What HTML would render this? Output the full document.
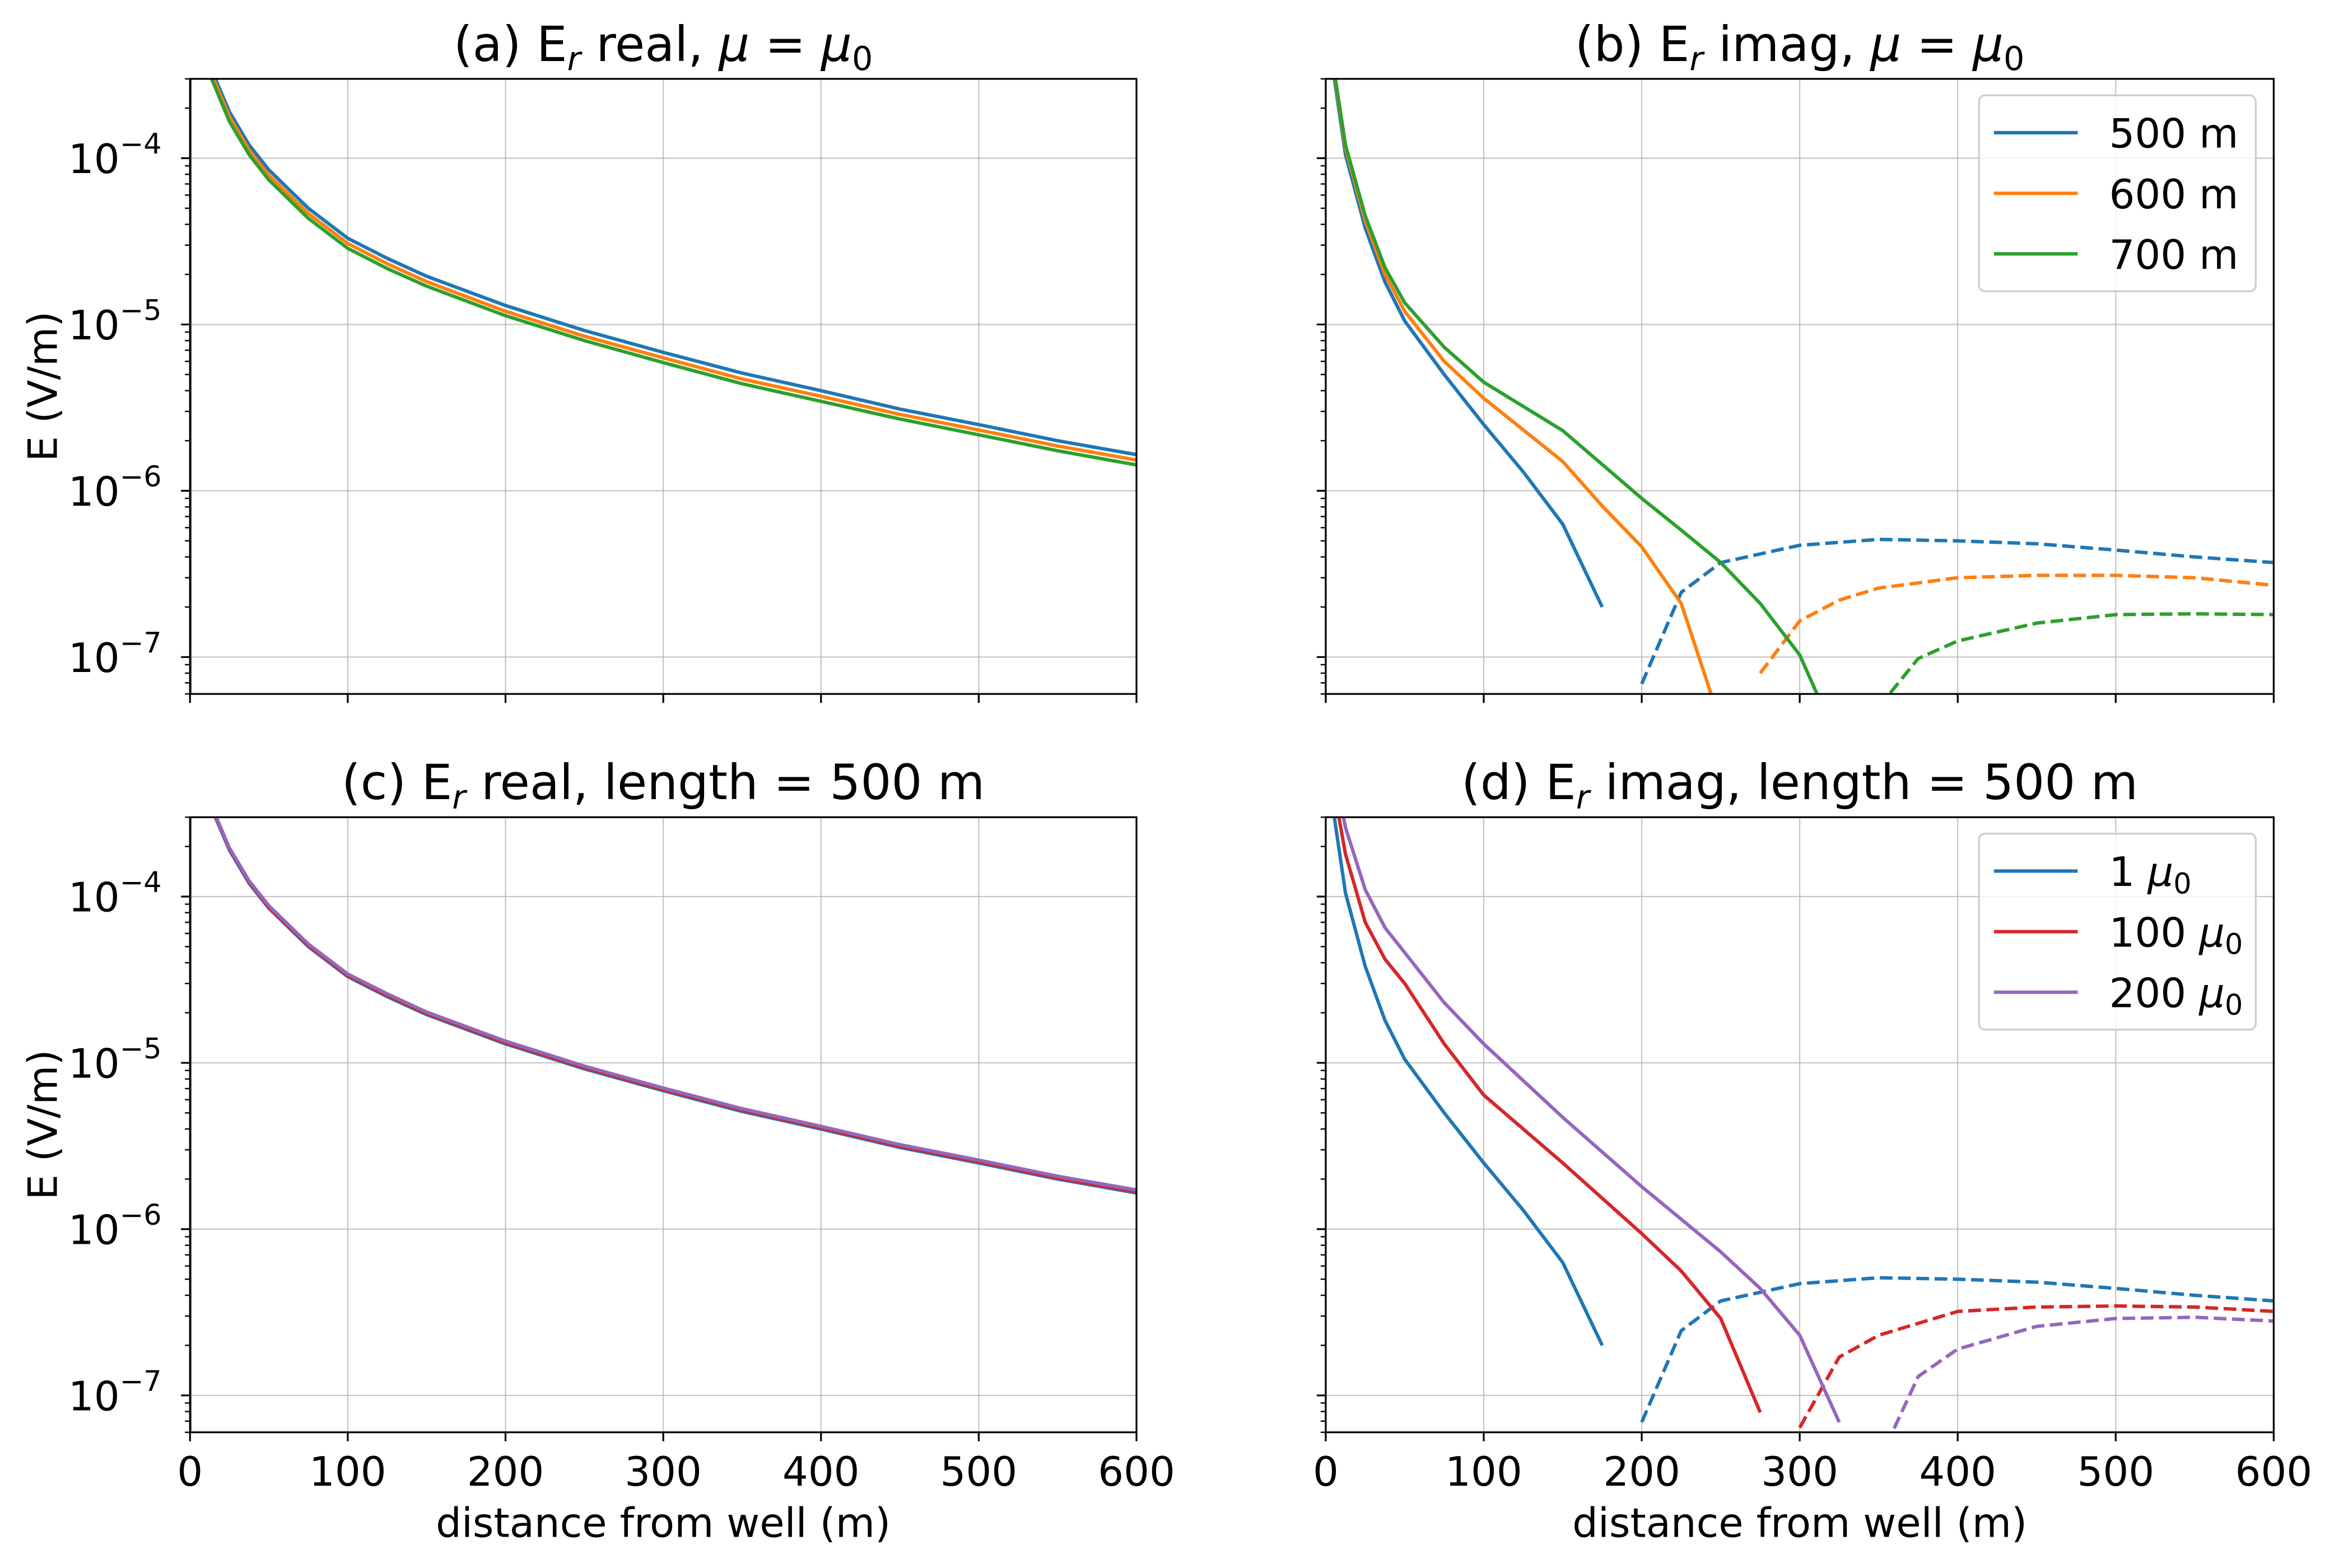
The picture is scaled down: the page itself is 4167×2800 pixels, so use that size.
<!DOCTYPE html>
<html><head><meta charset="utf-8"><style>
html,body{margin:0;padding:0;background:#fff}
svg{display:block}
text{font-family:"DejaVu Sans","Liberation Sans",sans-serif;fill:#000}
</style></head><body>
<svg id="fig" width="4167" height="2800" viewBox="0 0 1560 1048.2" xmlns="http://www.w3.org/2000/svg"></svg>
<script>
const xR = [1,12.5,25,37.5,50,75,100,125,150,200,250,300,350,400,450,500,550,600];
const realA500 = [3e-3,3.6e-4,1.9e-4,1.2e-4,8.5e-5,5e-5,3.3e-5,2.5e-5,1.95e-5,1.3e-5,9.2e-6,6.8e-6,5.1e-6,4e-6,3.1e-6,2.5e-6,2e-6,1.65e-6];
const realA600 = [3e-3,3.4e-4,1.78e-4,1.12e-4,7.9e-5,4.65e-5,3.07e-5,2.32e-5,1.81e-5,1.2e-5,8.5e-6,6.3e-6,4.7e-6,3.7e-6,2.88e-6,2.32e-6,1.86e-6,1.53e-6];
const realA700 = [3e-3,3.2e-4,1.66e-4,1.05e-4,7.4e-5,4.35e-5,2.87e-5,2.17e-5,1.7e-5,1.13e-5,8e-6,5.9e-6,4.4e-6,3.45e-6,2.7e-6,2.17e-6,1.74e-6,1.43e-6];
const realC100 = [3e-3,3.65e-4,1.93e-4,1.22e-4,8.6e-5,5.07e-5,3.35e-5,2.54e-5,1.98e-5,1.32e-5,9.35e-6,6.9e-6,5.2e-6,4.06e-6,3.15e-6,2.54e-6,2.03e-6,1.68e-6];
const realC200 = [3e-3,3.7e-4,1.96e-4,1.24e-4,8.8e-5,5.18e-5,3.42e-5,2.6e-5,2.02e-5,1.35e-5,9.55e-6,7.05e-6,5.3e-6,4.15e-6,3.22e-6,2.6e-6,2.08e-6,1.72e-6];
const xBlueS = [1,5,12.5,25,37.5,50,75,100,125,150,175];
const imBlueS = [3e-3,3.2e-4,1.05e-4,3.8e-5,1.8e-5,1.05e-5,5e-6,2.5e-6,1.3e-6,6.3e-7,2e-7];
const xBlueD = [200,225,250,300,350,400,450,500,550,600];
const imBlueD = [6.9e-8,2.45e-7,3.7e-7,4.7e-7,5.1e-7,5e-7,4.8e-7,4.4e-7,4.0e-7,3.7e-7];
const xOrS = [1,5,12.5,25,37.5,50,75,100,150,175,200,225,250];
const imOrS = [3e-3,3.4e-4,1.15e-4,4.2e-5,2e-5,1.2e-5,6e-6,3.6e-6,1.5e-6,8.1e-7,4.6e-7,2.1e-7,4e-8];
const xOrD = [275,300,325,350,400,450,500,550,600];
const imOrD = [8e-8,1.65e-7,2.2e-7,2.6e-7,3e-7,3.1e-7,3.1e-7,3e-7,2.7e-7];
const xGrS = [1,5,12.5,25,37.5,50,75,100,150,200,225,250,275,300,325];
const imGrS = [3e-3,3.5e-4,1.2e-4,4.5e-5,2.2e-5,1.35e-5,7.3e-6,4.5e-6,2.3e-6,9e-7,5.8e-7,3.7e-7,2.1e-7,1.03e-7,3e-8];
const xGrD = [350,375,400,450,500,550,600];
const imGrD = [5e-8,9.8e-8,1.25e-7,1.6e-7,1.8e-7,1.82e-7,1.8e-7];
const xBlueS2 = [1,5,12.5,25,37.5,50,75,100,125,150,175];
const xRdS = [1,5,12.5,25,37.5,50,75,100,150,200,225,250,275];
const imRdS = [3e-3,4.5e-4,1.8e-4,7e-5,4.2e-5,3e-5,1.3e-5,6.4e-6,2.5e-6,9.4e-7,5.6e-7,2.9e-7,7.9e-8];
const xRdD = [300,325,350,400,450,500,550,600];
const imRdD = [6.4e-8,1.7e-7,2.3e-7,3.2e-7,3.4e-7,3.45e-7,3.4e-7,3.2e-7];
const xPuS = [1,5,12.5,25,37.5,50,75,100,150,200,250,275,300,325];
const imPuS = [3e-3,6e-4,2.6e-4,1.1e-4,6.5e-5,4.6e-5,2.3e-5,1.3e-5,4.7e-6,1.8e-6,7.3e-7,4.4e-7,2.3e-7,6.9e-8];
const xPuD = [350,375,400,450,500,550,600];
const imPuD = [4e-8,1.3e-7,1.9e-7,2.6e-7,2.9e-7,2.95e-7,2.8e-7];
const xTicks = [0,100,200,300,400,500,600];
const yDecades = [-7,-6,-5,-4];

const C = {blue:'#1f77b4',orange:'#ff7f0e',green:'#2ca02c',red:'#d62728',purple:'#9467bd'};
const NS='http://www.w3.org/2000/svg';
const svg=document.getElementById('fig');
function mk(tag,attrs,parent){const e=document.createElementNS(NS,tag);for(const k in attrs)e.setAttribute(k,attrs[k]);(parent||svg).appendChild(e);return e;}
const YMIN=Math.log10(6.0e-8), YMAX=Math.log10(3.0e-4);
const FS=27, TFS=32.4;

function panel(id,x0,y0,x1,y1,title,xlabel,ylabel,series,legend){
  const g=mk('g',{});
  
  
  const sx=v=>x0+(v/600)*(x1-x0);
  const sy=v=>y1-(Math.log10(v)-YMIN)/(YMAX-YMIN)*(y1-y0);
  const cp=mk('clipPath',{id:'clip'+id},g);
  mk('rect',{x:x0,y:y0,width:x1-x0,height:y1-y0},cp);
  xTicks.forEach(t=>{const l=mk('line',{x1:sx(t),x2:sx(t),y1:y0,y2:y1,stroke:'#b0b0b0','stroke-width':0.8,'stroke-opacity':0.75},g);
    });
  yDecades.forEach(d=>{const y=sy(Math.pow(10,d));const l=mk('line',{x1:x0,x2:x1,y1:y,y2:y,stroke:'#b0b0b0','stroke-width':0.8,'stroke-opacity':0.75},g);
    });
  series.forEach(s=>{
    const pts=s.x.map((xv,i)=>sx(xv).toFixed(2)+','+sy(s.y[i]).toFixed(2)).join(' ');
    const p=mk('polyline',{points:pts,fill:'none',stroke:s.c,'stroke-width':2.3,'stroke-linejoin':'round','clip-path':'url(#clip'+id+')'},g);
    if(s.dash)p.setAttribute('stroke-dasharray','8.5,3.7');
    
    
  });
  const fr=mk('rect',{x:x0,y:y0,width:x1-x0,height:y1-y0,fill:'none',stroke:'#000','stroke-width':1.2},g);
  
  xTicks.forEach(t=>{mk('line',{x1:sx(t),x2:sx(t),y1:y1,y2:y1+6,stroke:'#000','stroke-width':1.2},g);
    if(xlabel){const tx=mk('text',{x:sx(t),y:y1+35.6,'text-anchor':'middle','font-size':FS},g);tx.textContent=t;
      }});
  for(let d=-8;d<=-4;d++){
    for(let m=1;m<=9;m++){const v=m*Math.pow(10,d);const lv=Math.log10(v);if(lv<YMIN-1e-6||lv>YMAX+1e-6)continue;
      const y=sy(v);mk('line',{x1:x0-(m===1?6:3.4),x2:x0,y1:y,y2:y,stroke:'#000','stroke-width':m===1?1.2:0.9},g);}
  }
  if(ylabel){yDecades.forEach(d=>{const y=sy(Math.pow(10,d));
    const tx=mk('text',{x:x0-47,y:y+10,'text-anchor':'end','font-size':FS},g);tx.textContent='10';
    
    const ex=mk('text',{x:x0-47,y:y-3,'font-size':19},g);ex.textContent='\u2212'+(-d);});
    const yl=mk('text',{x:0,y:0,'text-anchor':'middle','font-size':FS,transform:`translate(${x0-89},${(y0+y1)/2}) rotate(-90)`},g);
    yl.textContent='E (V/m)';}
  if(xlabel){const xl=mk('text',{x:(x0+x1)/2,y:y1+70,'text-anchor':'middle','font-size':FS},g);xl.textContent=xlabel;
    }
  const tt=mk('text',{x:(x0+x1)/2,y:y0-12,'text-anchor':'middle','font-size':TFS},g);
  tt.innerHTML=title;
  if(legend){
    const lx=x1-197,ly=y0+11,lh=131,lw=185;
    const lg=mk('g',{},g);
    mk('rect',{x:lx,y:ly,width:lw,height:lh,rx:4,fill:'#fff','fill-opacity':0.8,stroke:'#ccc','stroke-width':1.2},lg);
    legend.forEach((e,i)=>{const yy=ly+25+i*40.5;
      mk('line',{x1:lx+10,x2:lx+66,y1:yy,y2:yy,stroke:e.c,'stroke-width':2.3},lg);
      const t=mk('text',{x:lx+87,y:yy+10,'font-size':FS},lg);t.innerHTML=e.t;
      });
  }
}
const sub='<tspan font-size="22" dy="6" font-style="italic">r</tspan><tspan dy="-6">';
const mu0='<tspan font-style="italic">μ</tspan> = <tspan font-style="italic">μ</tspan><tspan font-size="22" dy="6">0</tspan>';
const xZero=[0,0], yZero=[5e-8,1e-2];
panel('a',127,52.7,759.6,463.9,'(a) E'+sub+' real, </tspan>'+mu0,null,true,[
  {x:xZero,y:yZero,c:C.green,name:'line-axis-green'},
  {x:xR,y:realA500,c:C.blue,name:'line-500m'},{x:xR,y:realA600,c:C.orange,name:'line-600m'},{x:xR,y:realA700,c:C.green,name:'line-700m'}]);
panel('b',886.1,52.7,1519.7,463.9,'(b) E'+sub+' imag, </tspan>'+mu0,null,false,[
  {x:xBlueS,y:imBlueS,c:C.blue,name:'line-500m-pos'},{x:xBlueD,y:imBlueD,c:C.blue,dash:1,name:'line-500m-neg'},
  {x:xOrS,y:imOrS,c:C.orange,name:'line-600m-pos'},{x:xOrD,y:imOrD,c:C.orange,dash:1,name:'line-600m-neg'},
  {x:xGrS,y:imGrS,c:C.green,name:'line-700m-pos'},{x:xGrD,y:imGrD,c:C.green,dash:1,name:'line-700m-neg'}],
  [{c:C.blue,t:'500 m'},{c:C.orange,t:'600 m'},{c:C.green,t:'700 m'}]);
const mu='<tspan font-style="italic">μ</tspan><tspan font-size="19" dy="5">0</tspan>';
panel('c',127,546.3,759.6,957.5,'(c) E'+sub+' real, length = 500 m</tspan>','distance from well (m)',true,[
  {x:xZero,y:yZero,c:C.purple,name:'line-axis-purple'},
  {x:xR,y:realA500,c:C.blue,name:'line-1mu0'},{x:xR,y:realC100,c:C.red,name:'line-100mu0'},{x:xR,y:realC200,c:C.purple,name:'line-200mu0'}]);
panel('d',886.1,546.3,1519.7,957.5,'(d) E'+sub+' imag, length = 500 m</tspan>','distance from well (m)',false,[
  {x:xBlueS2,y:imBlueS,c:C.blue,name:'line-1mu0-pos'},{x:xBlueD,y:imBlueD,c:C.blue,dash:1,name:'line-1mu0-neg'},
  {x:xRdS,y:imRdS,c:C.red,name:'line-100mu0-pos'},{x:xRdD,y:imRdD,c:C.red,dash:1,name:'line-100mu0-neg'},
  {x:xPuS,y:imPuS,c:C.purple,name:'line-200mu0-pos'},{x:xPuD,y:imPuD,c:C.purple,dash:1,name:'line-200mu0-neg'}],
  [{c:C.blue,t:'1 '+mu},{c:C.red,t:'100 '+mu},{c:C.purple,t:'200 '+mu}]);
</script>
</body></html>
